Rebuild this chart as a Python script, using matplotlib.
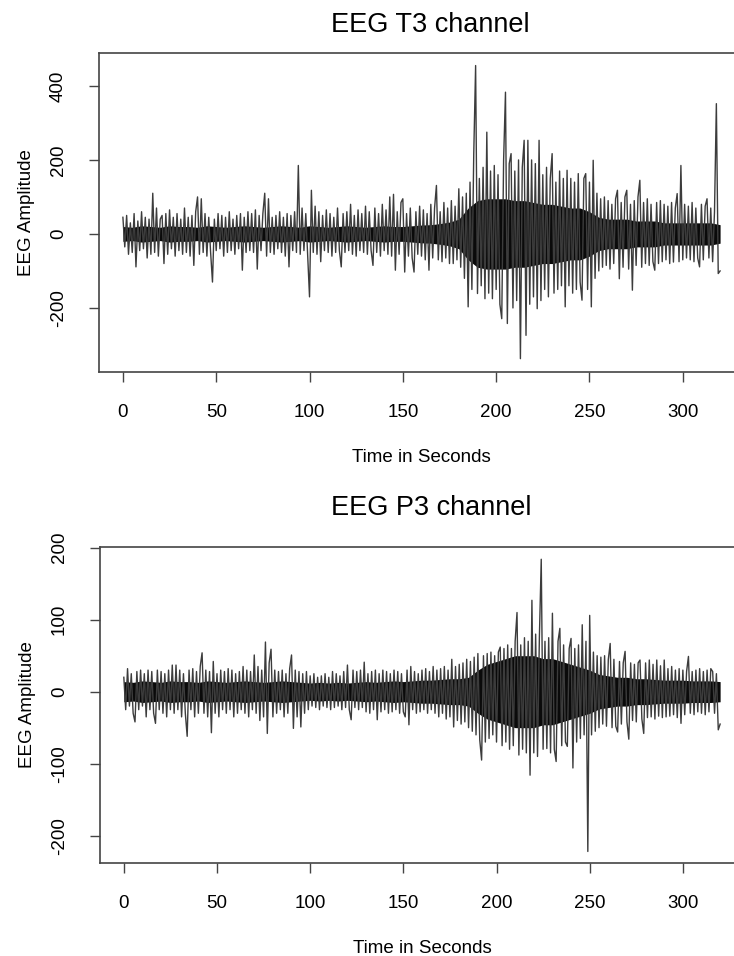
import numpy as np
import matplotlib
matplotlib.use("Agg")
import matplotlib.pyplot as plt

plt.rcParams['font.family'] = ['Liberation Sans', 'DejaVu Sans']

# peak values, one per second (t = 0..320)
t3_amp = [
    45, -35, 50, -55, 30, -50, 55, -89, 35, -45, 60, -40, 45, -65, 40, -55, 110, -50, 70, -60,
    40, 50, -80, 55, -55, 65, -40, 45, -60, 55, -45, 40, -55, 70, -50, 45, -60, 50, -85, 60,
    100, -55, 95, -50, 55, -60, 45, -50, -130, 40, -45, 55, -40, 50, -60, 45, -50, 60, -45, 40,
    -55, 50, -40, 55, -98, 45, -50, 60, -45, 55, -50, 65, -95, 50, -45, 55, 110, -60, 95, -50,
    45, -55, 50, -40, 60, -50, 45, -60, 55, -89, 50, -45, 60, -50, 185, -55, 70, -45, 55, -60,
    -170, 118, -50, 75, -55, 60, -75, 50, -45, 65, -50, 55, -60, 45, -50, 70, -45, -89, 55, -50,
    60, -45, 80, -55, 50, -60, 65, -45, 55, -50, 75, -55, 60, -45, -85, 70, -50, 55, -60, 80,
    -45, 65, -55, 100, -60, 107, -98, 60, -55, 85, 95, -103, 55, -60, 70, -65, -103, 60, -55, 75,
    -60, 65, -70, 55, -98, 80, -65, 70, 131, -70, 60, -75, 85, -65, 70, -80, 90, -80, 75, -70,
    122, -90, 100, -120, 110, -197, 140, -150, 217, 455, -161, 150, -140, 180, -175, 275, -160, 170, -175, 185,
    -150, 160, -190, -229, 200, 383, -242, 190, 217, -200, 170, -180, 200, -337, 180, 253, -274, 253, -190, 200,
    -170, 190, -202, 253, -180, 160, -150, 180, -170, 150, 217, -160, 140, -150, 170, -140, 150, -197, 172, -140,
    150, -160, 140, -150, 163, -130, -179, 150, 163, -150, 140, -197, 199, -120, 110, -100, 95, -90, 100, -85,
    90, -95, 80, -80, 95, 118, -121, 85, -90, 100, 118, -95, 80, -152, 90, -85, 100, 145, -90, 85,
    -80, 95, -85, 80, -75, -98, 85, -80, 90, -75, 80, -70, 75, -80, 85, -76, 70, 109, -75, 185,
    -70, 80, -65, 75, -70, 85, -75, 70, -65, -89, 80, -70, 75, 95, -65, 70, -75, 60, 352, -107,
    -100,
]

p3_amp = [
    20, -25, 32, -20, 25, -30, -42, 28, -25, 30, -20, 25, -35, 30, -25, 28, -30, -44, 30, -25,
    28, -30, 25, -35, 30, -25, 37, -30, 37, -25, 30, -35, 25, -30, -62, 30, -25, 32, -35, 28,
    -30, 35, 54, -30, 30, -35, 28, -57, 42, -30, 25, -35, 30, -25, 28, -30, 32, -25, 30, -35,
    25, -30, 28, -25, 35, -30, 30, -35, 28, -25, 51, -30, 35, -40, 30, -35, 69, -58, 40, 59,
    -35, 30, -30, 28, -25, 30, -35, 25, -30, 32, 51, -51, 30, -35, 28, -49, 25, -30, 28, -25,
    22, -20, 25, -22, 20, -25, 22, -20, 25, -22, 20, -25, 28, -22, 25, -20, 22, -25, 28, -22,
    37, -25, -39, 30, -22, 28, -25, 30, -22, 41, -28, 25, -30, 28, -25, 30, -39, 25, -28, 30,
    -25, 28, -30, 25, -28, 30, -25, 28, -30, 25, -28, -35, 30, -46, 35, -25, 28, -30, 25, -28,
    30, -25, 32, -30, 28, -25, 35, -30, 30, -35, 32, -30, 35, -38, 30, -35, 45, -49, 35, -40,
    38, -45, 40, -42, 45, -50, 42, -55, 48, -60, 53, -67, -95, 50, -70, 53, -65, 55, -60, 50,
    -70, 55, 62, -75, 60, -70, 65, -80, 60, -75, 70, 110, -88, 65, -80, 75, -85, 70, -116, 127,
    -85, 80, -90, 75, 184, -80, 70, -79, 75, -85, 109, -80, -97, 70, 88, -75, 65, -70, -76, 60,
    74, -106, 60, -70, 65, -65, 93, -60, 70, -222, 106, -60, 55, -55, 50, -50, 48, -45, 50, -48,
    45, 67, -50, 45, -48, -56, 42, -45, 40, 56, -42, -66, 40, -40, 38, -42, 40, 44, -38, -58,
    40, -36, 44, -35, 38, -38, 44, -34, 36, -36, 44, -35, 32, -34, 35, -32, 30, -36, 32, -44,
    30, -32, 28, 49, -30, 28, -32, 30, -28, 32, -30, 28, -32, 30, -28, 32, 28, -30, 25, -53,
    -45,
]

# half-width of the dense dark core of each trace, every 5 seconds (t = 0..320)
t3_core = [20, 18, 22, 20, 18, 22, 20, 20, 18, 22, 20, 18, 20, 22, 20, 18, 20, 22,
           20, 18, 22, 20, 18, 20, 22, 20, 18, 20, 22, 20, 20, 22, 24, 25, 28, 32,
           40, 70, 90, 95, 95, 95, 90, 90, 85, 80, 80, 75, 70, 70, 60, 45, 40, 40,
           40, 35, 35, 35, 30, 30, 30, 30, 30, 30, 25]
p3_core = [14, 13, 15, 14, 13, 15, 14, 14, 13, 15, 14, 13, 14, 15, 14, 13, 14, 15,
           14, 13, 12, 13, 12, 13, 12, 13, 14, 13, 14, 15, 14, 15, 16, 16, 17, 18,
           18, 20, 30, 38, 42, 46, 50, 50, 50, 46, 46, 42, 38, 34, 30, 24, 22, 20,
           20, 18, 18, 17, 16, 16, 16, 15, 15, 15, 14]

titles = ["EEG T3 channel", "EEG P3 channel"]
ylims = [(-373, 489), (-238, 201)]
yticks = [[-200, 0, 200, 400], [-200, -100, 0, 100, 200]]
xticks = [0, 50, 100, 150, 200, 250, 300]

t = np.arange(len(t3_amp))
tc = np.arange(len(t3_core)) * 5

fig = plt.figure(figsize=(7.34, 9.56), dpi=100)
ax1 = fig.add_axes([0.1349, 0.6109, 0.8787, 0.3337])
ax2 = fig.add_axes([0.1362, 0.0973, 0.8774, 0.3305])

for ax, amp, core, title, ylim, yt, tpad in zip(
        [ax1, ax2], [t3_amp, p3_amp], [t3_core, p3_core], titles, ylims, yticks, [15, 23]):
    amp = np.array(amp)
    core = np.array(core)
    ax.plot(t, amp, color='#3c3c3c', lw=1.0)
    ax.fill_between(tc, -core, core, color='#0a0a0a', lw=0)
    ax.set_xlim(-12.8, 332.8)
    ax.set_ylim(*ylim)
    ax.set_xticks(xticks)
    ax.set_yticks(yt)
    ax.set_yticklabels([str(v) for v in yt], rotation=90, va='center')
    ax.tick_params(axis='both', direction='out', length=7, width=1.0, color='#444',
                   labelsize=13.5, pad=16)
    for s in ax.spines.values():
        s.set_color('#444')
        s.set_linewidth(1.2)
    ax.set_title(title, fontsize=19.5, pad=tpad, x=0.514)
    ax.set_xlabel("Time in Seconds", fontsize=13.5, labelpad=20)
    ax.set_ylabel("EEG Amplitude", fontsize=13.5, labelpad=11)

fig.savefig("out.png", dpi=100)
